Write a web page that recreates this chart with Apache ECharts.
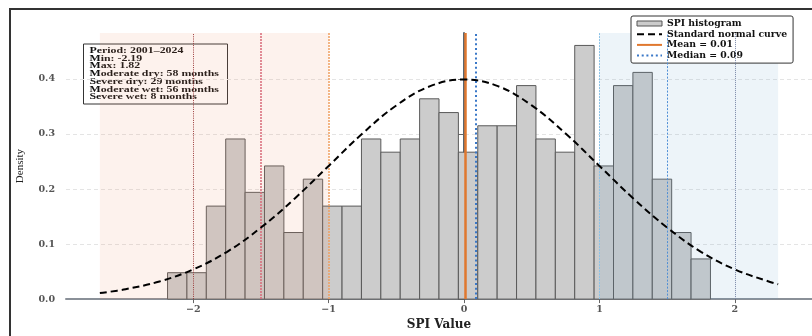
<!DOCTYPE html>
<html>
<head>
<meta charset="utf-8">
<script src="https://cdn.jsdelivr.net/npm/echarts@6/dist/echarts.min.js"></script>
<style>
  html, body { margin: 0; padding: 0; background: #fff; }
  #main { width: 812px; height: 336px; }
</style>
</head>
<body>
<div id="main"></div>
<script>
// SPI histogram, 28 equal bins from the min to the max value
var spiMin = -2.19;
var spiMax = 1.82;
var binDensity = [0.048, 0.048, 0.169, 0.291, 0.194, 0.242, 0.121, 0.218, 0.169, 0.169,
                  0.291, 0.267, 0.291, 0.364, 0.339, 0.267, 0.315, 0.315, 0.388, 0.291,
                  0.267, 0.461, 0.242, 0.388, 0.412, 0.218, 0.121, 0.073];
// standard normal curve
var curveX = [-2.69, -2.5, -2.25, -2.0, -1.75, -1.5, -1.25, -1.0, -0.75, -0.5, -0.25, 0,
              0.25, 0.5, 0.75, 1.0, 1.25, 1.5, 1.75, 2.0, 2.25, 2.32];
var curveY = [0.011, 0.018, 0.032, 0.054, 0.086, 0.130, 0.183, 0.242, 0.301, 0.352, 0.387, 0.399,
              0.387, 0.352, 0.301, 0.242, 0.183, 0.130, 0.086, 0.054, 0.032, 0.027];
var dryLevels = [-2, -1.5, -1];
var wetLevels = [1, 1.5, 2];
var dryRange = [-2.69, -1];
var wetRange = [1, 2.32];
var meanValue = 0.01;
var medianValue = 0.09;
var statsLines = ['Period: 2001\u20132024', 'Min: -2.19', 'Max: 1.82', 'Moderate dry: 58 months',
                  'Severe dry: 29 months', 'Moderate wet: 56 months', 'Severe wet: 8 months'];

var yTop = 0.4836;
var serif = 'DejaVu Serif';

var binW = (spiMax - spiMin) / binDensity.length;
var bars = [];
for (var i = 0; i < binDensity.length; i++) {
  bars.push([spiMin + i * binW, spiMin + (i + 1) * binW, binDensity[i]]);
}
var curve = [];
for (var j = 0; j < curveX.length; j++) curve.push([curveX[j], curveY[j]]);

var shades = [[dryRange[0], dryRange[1], 0], [wetRange[0], wetRange[1], 1]];

var dryStyles = [
  {color: '#9b3a3a', width: 1, type: [1, 1.2]},
  {color: '#d86a78', width: 1.5, type: [2, 1]},
  {color: '#f0a060', width: 1.5, type: [2, 1]}
];
var wetStyles = [
  {color: '#8cc2e6', width: 1, type: [2, 1]},
  {color: '#4f8fd6', width: 1, type: [2, 1.5]},
  {color: '#7a88a8', width: 1, type: [1, 1]}
];
var levelLines = [];
dryLevels.forEach(function (v, k) { levelLines.push({xAxis: v, lineStyle: dryStyles[k]}); });
wetLevels.forEach(function (v, k) { levelLines.push({xAxis: v, lineStyle: wetStyles[k]}); });

var meanStyle = {color: '#e0782f', width: 2.5, type: 'solid'};
var medianStyle = {color: '#3a78c8', width: 2, type: [2, 2.7]};
var hideDot = {opacity: 0};

var option = {
  animation: false,
  grid: {left: 66, right: 0, top: 33, bottom: 29.3},
  legend: {
    orient: 'vertical',
    left: 631, top: 16,
    padding: [3, 6, 3, 5],
    itemGap: 1.7,
    itemWidth: 25,
    itemHeight: 5,
    itemTextGap: 10,
    backgroundColor: '#fff',
    borderColor: '#333',
    borderWidth: 1,
    borderRadius: 2,
    textStyle: {fontFamily: serif, fontSize: 9.3, fontWeight: 'bold', color: '#111', lineHeight: 9},
    data: [
      {name: 'SPI histogram', icon: 'rect', itemStyle: {color: '#cccccc', borderColor: '#555', borderWidth: 1}},
      {name: 'Standard normal curve', itemStyle: hideDot},
      {name: 'Mean = 0.01', itemStyle: hideDot},
      {name: 'Median = 0.09', itemStyle: hideDot}
    ]
  },
  xAxis: {
    type: 'value',
    min: -2.94, max: 2.57,
    name: 'SPI Value',
    nameLocation: 'middle',
    nameGap: 15,
    nameTextStyle: {fontFamily: serif, fontSize: 12, fontWeight: 'bold', color: '#222'},
    axisLine: {lineStyle: {color: '#8a9098', width: 2}},
    axisTick: {show: true, length: 4, customValues: [-2, -1, 0, 1, 2], lineStyle: {color: '#666'}},
    axisLabel: {
      customValues: [-2, -1, 0, 1, 2],
      margin: 5,
      fontFamily: serif, fontSize: 9.5, fontWeight: 'bold', color: '#555',
      formatter: function (v) { return String(v).replace('-', '\u2212'); }
    },
    splitLine: {show: false}
  },
  yAxis: {
    type: 'value',
    min: 0, max: yTop, interval: 0.1,
    name: 'Density',
    nameLocation: 'middle',
    nameGap: 40,
    nameTextStyle: {fontFamily: 'Liberation Serif', fontSize: 11, color: '#222'},
    axisLine: {show: true, lineStyle: {color: '#5b6670', width: 2}},
    axisTick: {show: true, length: 6, customValues: [0, 0.1, 0.2, 0.3, 0.4], lineStyle: {color: '#666'}},
    axisLabel: {
      customValues: [0, 0.1, 0.2, 0.3, 0.4],
      margin: 11,
      fontFamily: serif, fontSize: 9.5, fontWeight: 'bold', color: '#555',
      formatter: function (v) { return v.toFixed(1); }
    },
    splitLine: {show: true, lineStyle: {color: '#e4e4e4', type: [4, 3], width: 1}}
  },
  graphic: [
    {type: 'rect', silent: true, z: 100, shape: {x: 9, y: 8, width: 2, height: 330}, style: {fill: '#333'}},
    {type: 'rect', silent: true, z: 100, shape: {x: 9, y: 8, width: 805, height: 2}, style: {fill: '#333'}},
    // stats box
    {
      type: 'group', left: 83, top: 43.5, z: 100, silent: true,
      children: [
        {type: 'rect', shape: {x: 0, y: 0, width: 144, height: 60}, style: {fill: '#fff', stroke: '#333', lineWidth: 1}},
        {
          type: 'text', x: 6, y: 3, scaleX: 1.38,
          style: {
            text: statsLines.join('\n'),
            fontFamily: 'Liberation Serif', fontSize: 8.6, fontWeight: 'bold',
            lineHeight: 7.7, fill: '#111', verticalAlign: 'top'
          }
        }
      ]
    }
  ],
  series: [
    {
      name: 'SPI histogram',
      type: 'custom',
      z: 2,
      data: bars,
      encode: {x: [0, 1], y: 2},
      renderItem: function (params, api) {
        var p0 = api.coord([api.value(0), api.value(2)]);
        var p1 = api.coord([api.value(1), 0]);
        return {
          type: 'rect',
          shape: {x: p0[0], y: p0[1], width: p1[0] - p0[0], height: p1[1] - p0[1]},
          style: {fill: '#cccccc', stroke: '#5a5a5a', lineWidth: 1}
        };
      }
    },
    {
      name: 'shade',
      type: 'custom',
      z: 3,
      silent: true,
      data: shades,
      encode: {x: [0, 1]},
      renderItem: function (params, api) {
        var p0 = api.coord([api.value(0), yTop]);
        var p1 = api.coord([api.value(1), 0]);
        var fill = api.value(2) === 0 ? 'rgba(240,150,105,0.12)' : 'rgba(110,165,205,0.12)';
        return {
          type: 'rect',
          shape: {x: p0[0], y: p0[1], width: p1[0] - p0[0], height: p1[1] - p0[1]},
          style: {fill: fill}
        };
      }
    },
    {
      name: 'levels',
      type: 'line',
      z: 4,
      data: [],
      markLine: {silent: true, symbol: 'none', label: {show: false}, data: levelLines}
    },
    {
      name: 'Standard normal curve',
      type: 'line',
      z: 5,
      data: curve,
      smooth: 0.4,
      symbol: 'none',
      itemStyle: {color: '#000'},
      lineStyle: {color: '#000', width: 2, type: [7, 4]}
    },
    {
      name: 'Mean = 0.01',
      type: 'line',
      z: 6,
      data: [],
      symbol: 'none',
      itemStyle: {color: meanStyle.color},
      lineStyle: meanStyle,
      markLine: {silent: true, symbol: 'none', label: {show: false}, lineStyle: meanStyle, data: [{xAxis: meanValue}]}
    },
    {
      name: 'Median = 0.09',
      type: 'line',
      z: 6,
      data: [],
      symbol: 'none',
      itemStyle: {color: medianStyle.color},
      lineStyle: medianStyle,
      markLine: {silent: true, symbol: 'none', label: {show: false}, lineStyle: medianStyle, data: [{xAxis: medianValue}]}
    }
  ]
};

var chart = echarts.init(document.getElementById('main'));
chart.setOption(option);
</script>
</body>
</html>
